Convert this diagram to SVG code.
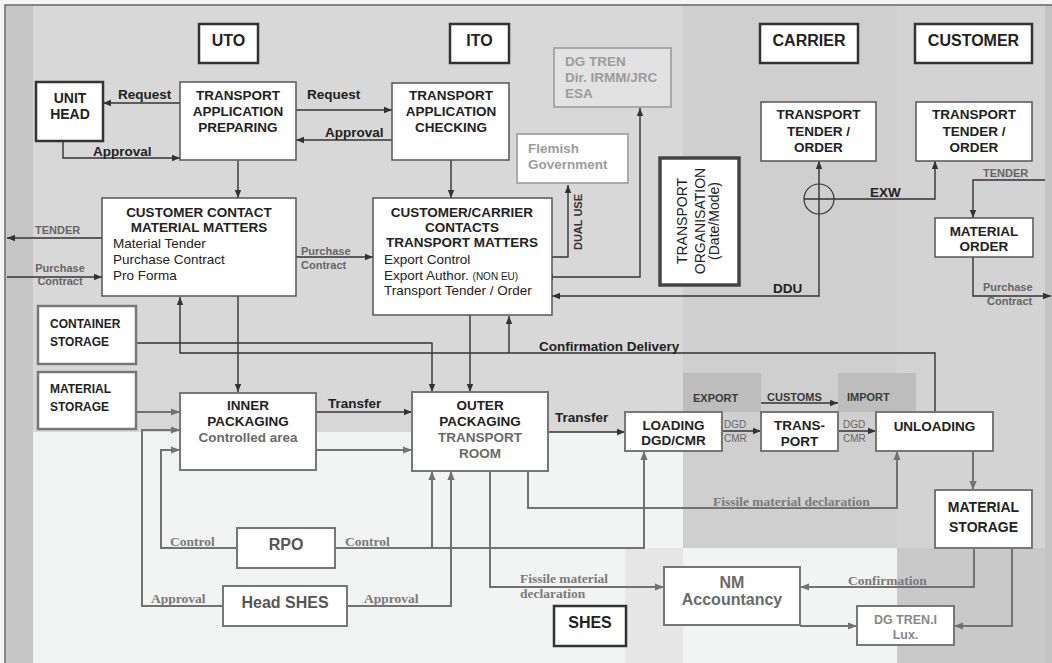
<svg xmlns="http://www.w3.org/2000/svg" width="1052" height="663" viewBox="0 0 1052 663">
<style>
text{font-family:"Liberation Sans",Arial,sans-serif;fill:#222}
.b{font-weight:bold;font-size:13.5px}
.c{text-anchor:middle}
.n{font-size:13.5px}
.t{font-weight:bold;font-size:16px;text-anchor:middle}
.s{font-weight:bold;font-size:11px;fill:#666}
.lb{font-weight:bold;font-size:13.5px}
.sf{font-family:"Liberation Serif","Times New Roman",serif;font-weight:bold;font-size:13.5px;fill:#7a7a7a}
.g{fill:#6a6a6a}
.lg{fill:#9c9c9c}
.box{fill:#fff;stroke:#555;stroke-width:1.5}
.tb{fill:#fff;stroke:#333;stroke-width:2.5}
.gb{fill:#fff;stroke:#777;stroke-width:2.5}
.gb2{fill:#fff;stroke:#777;stroke-width:2}
.lbx{fill:#fff;stroke:#aaa;stroke-width:2}
.d{fill:none;stroke:#333;stroke-width:1.4}
.gr{fill:none;stroke:#727272;stroke-width:2}
</style>
<defs>
<marker id="ad" viewBox="0 0 10 10" refX="10" refY="5" markerWidth="8" markerHeight="8" markerUnits="userSpaceOnUse" orient="auto-start-reverse"><path d="M0,1 L10,5 L0,9 z" fill="#333"/></marker>
<marker id="ag" viewBox="0 0 10 10" refX="10" refY="5" markerWidth="9" markerHeight="9" markerUnits="userSpaceOnUse" orient="auto-start-reverse"><path d="M0,1 L10,5 L0,9 z" fill="#727272"/></marker>
</defs>
<g id="background">
<rect x="0" y="0" width="1052" height="663" fill="#f4f4f4"/>
<rect x="5" y="5" width="1047" height="660" fill="#d8d8d8" stroke="#666" stroke-width="1.5"/>
<rect x="6" y="6" width="27" height="657" fill="#c6c6c6"/>
<rect x="683" y="6" width="214" height="542" fill="#cfcfcf"/>
<rect x="897" y="6" width="148" height="657" fill="#d3d3d3"/>
<rect x="897" y="548" width="148" height="115" fill="#c9c9c9"/>
<rect x="1045" y="6" width="7" height="657" fill="#c4c4c4"/>
<rect x="33" y="432" width="650" height="231" fill="#f2f3f3"/>
<rect x="625" y="548" width="58" height="115" fill="#e6e6e6"/>
<rect x="683" y="548" width="214" height="115" fill="#f2f3f3"/>
<rect x="683" y="373" width="78" height="39" fill="#bdbdbd"/>
<rect x="838" y="373" width="78" height="39" fill="#bdbdbd"/>
</g>
<g id="connectors">
<path class="d" d="M180,103 H103" marker-end="url(#ad)"/>
<path class="d" d="M63,141 V158 H180" marker-end="url(#ad)"/>
<path class="d" d="M296,110 H392" marker-end="url(#ad)"/>
<path class="d" d="M392,140 H296" marker-end="url(#ad)"/>
<path class="d" d="M238,161 V198" marker-end="url(#ad)"/>
<path class="d" d="M451,160 V198" marker-end="url(#ad)"/>
<path class="d" d="M102,238 H7" marker-end="url(#ad)"/>
<path class="d" d="M7,277 H102" marker-end="url(#ad)"/>
<path class="d" d="M296,257 H373" marker-end="url(#ad)"/>
<path class="d" d="M510,257 H568 V185" marker-start="url(#ad)" marker-end="url(#ad)"/>
<path class="d" d="M545,277 H640 V108" marker-start="url(#ad)" marker-end="url(#ad)"/>
<path class="d" d="M552,296 H819 V161" marker-start="url(#ad)" marker-end="url(#ad)"/>
<path class="d" d="M804,199 H935 V161" marker-end="url(#ad)"/>
<circle cx="819" cy="199" r="15" fill="none" stroke="#333" stroke-width="1.2"/>
<path class="d" d="M1045,180 H973 V218" marker-end="url(#ad)"/>
<path class="d" d="M973,257 V296 H1051" marker-end="url(#ad)"/>
<path class="d" d="M136,343 H432 V392" marker-end="url(#ad)"/>
<path class="d" d="M470,315 V392" marker-end="url(#ad)"/>
<path class="d" d="M238,296 V392" marker-end="url(#ad)"/>
<path class="d" d="M935,412 V353 H180 V297" marker-end="url(#ad)"/>
<path class="d" d="M509,353 V316" marker-end="url(#ad)"/>
<path class="d" d="M316,412 H412" marker-end="url(#ad)"/>
<path class="d" d="M548,432 H625" marker-end="url(#ad)"/>
<path class="d" d="M722,431 H761" marker-end="url(#ad)"/>
<path class="d" d="M838,431 H876" marker-end="url(#ad)"/>
<path class="d" d="M761,403 H838" marker-end="url(#ad)"/>
<path class="gr" d="M136,412 H180" marker-end="url(#ag)"/>
<path class="gr" d="M316,450 H412" marker-end="url(#ag)"/>
<path class="gr" d="M237,548 H161 V450 H180" marker-end="url(#ag)"/>
<path class="gr" d="M223,606 H142 V430 H180" marker-end="url(#ag)"/>
<path class="gr" d="M335,548 H644 V451" marker-end="url(#ag)"/>
<path class="gr" d="M432,548 V471" marker-end="url(#ag)"/>
<path class="gr" d="M347,606 H451 V471" marker-end="url(#ag)"/>
<path class="gr" d="M490,471 V587 H664" marker-end="url(#ag)"/>
<path class="gr" d="M528,471 V508 H897 V451" marker-end="url(#ag)"/>
<path class="gr" d="M973,451 V490" marker-end="url(#ag)"/>
<path class="gr" d="M974,548 V587 H800" marker-end="url(#ag)"/>
<path class="gr" d="M800,626 H857" marker-end="url(#ag)"/>
<path class="gr" d="M1012,548 V626 H954" marker-end="url(#ag)"/>
</g>
<g id="labels">
<text class="lb" x="118" y="99">Request</text>
<text class="lb" x="93" y="156">Approval</text>
<text class="lb" x="307" y="99">Request</text>
<text class="lb" x="325" y="137">Approval</text>
<text class="s" x="35" y="234">TENDER</text>
<text class="s c" x="60" y="272">Purchase</text>
<text class="s c" x="60" y="285">Contract</text>
<text class="s" x="301" y="255">Purchase</text>
<text class="s" x="301" y="269">Contract</text>
<text class="s" style="fill:#333" transform="translate(582,222) rotate(-90)" text-anchor="middle">DUAL USE</text>
<text class="lb" x="870" y="197">EXW</text>
<text class="lb" x="773" y="293">DDU</text>
<text class="s" x="983" y="177">TENDER</text>
<text class="s" x="983" y="291">Purchase</text>
<text class="s" x="987" y="305">Contract</text>
<text class="lb" x="539" y="351">Confirmation Delivery</text>
<text class="lb" x="328" y="408">Transfer</text>
<text class="lb" x="555" y="422">Transfer</text>
<text class="s" style="fill:#3a3a3a" x="693" y="402">EXPORT</text>
<text class="s" style="fill:#3a3a3a" x="767" y="401">CUSTOMS</text>
<text class="s" style="fill:#3a3a3a" x="847" y="401">IMPORT</text>
<text style="font-size:10px;fill:#666" x="724" y="428">DGD</text>
<text style="font-size:10px;fill:#666" x="724" y="442">CMR</text>
<text style="font-size:10px;fill:#666" x="843" y="428">DGD</text>
<text style="font-size:10px;fill:#666" x="843" y="442">CMR</text>
<text class="sf" x="713" y="506">Fissile material declaration</text>
<text class="sf" x="520" y="583">Fissile material</text>
<text class="sf" x="520" y="598">declaration</text>
<text class="sf" x="170" y="546">Control</text>
<text class="sf" x="345" y="546">Control</text>
<text class="sf" x="151" y="603">Approval</text>
<text class="sf" x="364" y="603">Approval</text>
<text class="sf" x="848" y="585">Confirmation</text>
</g>
<g id="uto"><rect class="tb" x="199" y="24" width="59" height="39"/><text class="t" x="228.5" y="46">UTO</text></g>
<g id="ito"><rect class="tb" x="450" y="24" width="59" height="39"/><text class="t" x="479.5" y="46">ITO</text></g>
<g id="carrier"><rect class="tb" x="760" y="24" width="98" height="39"/><text class="t" x="809" y="46">CARRIER</text></g>
<g id="customer"><rect class="tb" x="915" y="24" width="117" height="39"/><text class="t" x="973.5" y="46">CUSTOMER</text></g>
<g id="shes"><rect class="tb" x="554" y="606" width="72" height="40"/><text class="t" x="590" y="628">SHES</text></g>
<g id="unit-head"><rect class="tb" x="36" y="82" width="67" height="59"/><text class="b c" style="font-size:14px" x="70" y="103">UNIT</text><text class="b c" style="font-size:14px" x="70" y="119">HEAD</text></g>
<g id="tap"><rect class="box" x="180" y="82" width="116" height="78"/><text class="b c" x="238" y="100">TRANSPORT</text><text class="b c" x="238" y="116">APPLICATION</text><text class="b c" x="238" y="132">PREPARING</text></g>
<g id="tac"><rect class="box" x="392" y="83" width="117" height="77"/><text class="b c" x="451" y="100">TRANSPORT</text><text class="b c" x="451" y="116">APPLICATION</text><text class="b c" x="451" y="132">CHECKING</text></g>
<g id="dg-tren"><rect x="554" y="48" width="117" height="59" fill="#e2e2e2" stroke="#a8a8a8" stroke-width="2"/><text class="b lg" x="565" y="66">DG TREN</text><text class="b lg" x="565" y="82">Dir. IRMM/JRC</text><text class="b lg" x="565" y="98">ESA</text></g>
<g id="flemish"><rect class="lbx" x="517" y="134" width="111" height="49"/><text class="b lg" x="528" y="153">Flemish</text><text class="b lg" x="528" y="169">Government</text></g>
<g id="ccmm"><rect class="box" x="102" y="198" width="194" height="98"/><text class="b c" x="199" y="217">CUSTOMER CONTACT</text><text class="b c" x="199" y="232">MATERIAL MATTERS</text><text class="n" x="113" y="248">Material Tender</text><text class="n" x="113" y="264">Purchase Contract</text><text class="n" x="113" y="280">Pro Forma</text></g>
<g id="cctm"><rect class="box" x="373" y="198" width="179" height="117"/><text class="b c" x="462" y="217">CUSTOMER/CARRIER</text><text class="b c" x="462" y="232">CONTACTS</text><text class="b c" x="462" y="247">TRANSPORT MATTERS</text><text class="n" x="384" y="264">Export Control</text><text class="n" x="384" y="280">Export Author. <tspan style="font-size:10px">(NON EU)</tspan></text><text class="n" x="384" y="295">Transport Tender / Order</text></g>
<g id="transport-organisation"><rect x="660" y="158" width="79" height="127" fill="#fff" stroke="#444" stroke-width="3.5"/><text style="font-size:14px" transform="translate(687,221) rotate(-90)" text-anchor="middle">TRANSPORT</text><text style="font-size:14px" transform="translate(705,221) rotate(-90)" text-anchor="middle">ORGANISATION</text><text style="font-size:14px" transform="translate(719,221) rotate(-90)" text-anchor="middle">(Date/Mode)</text></g>
<g id="carrier-tender"><rect class="box" x="761" y="102" width="115" height="59"/><text class="b c" x="818.5" y="119">TRANSPORT</text><text class="b c" x="818.5" y="136">TENDER /</text><text class="b c" x="818.5" y="152">ORDER</text></g>
<g id="customer-tender"><rect class="box" x="916" y="102" width="116" height="59"/><text class="b c" x="974" y="119">TRANSPORT</text><text class="b c" x="974" y="136">TENDER /</text><text class="b c" x="974" y="152">ORDER</text></g>
<g id="material-order"><rect class="box" x="935" y="218" width="98" height="39"/><text class="b c" x="984" y="236">MATERIAL</text><text class="b c" x="984" y="251">ORDER</text></g>
<g id="container-storage"><rect class="gb" x="38" y="306" width="98" height="58"/><text class="b" style="font-size:12px" x="50" y="328">CONTAINER</text><text class="b" style="font-size:12px" x="50" y="346">STORAGE</text></g>
<g id="material-storage-left"><rect class="gb" x="38" y="372" width="98" height="57"/><text class="b" style="font-size:12px" x="50" y="393">MATERIAL</text><text class="b" style="font-size:12px" x="50" y="411">STORAGE</text></g>
<g id="inner-packaging"><rect class="gb2" x="180" y="393" width="136" height="77"/><text class="b c" x="248" y="410">INNER</text><text class="b c" x="248" y="426">PACKAGING</text><text class="b c g" x="248" y="442">Controlled area</text></g>
<g id="outer-packaging"><rect class="gb2" x="412" y="392" width="136" height="79"/><text class="b c" x="480" y="410">OUTER</text><text class="b c" x="480" y="426">PACKAGING</text><text class="b c g" x="480" y="442">TRANSPORT</text><text class="b c g" x="480" y="458">ROOM</text></g>
<g id="loading"><rect class="gb2" x="625" y="412" width="97" height="39"/><text class="b c" x="673.5" y="430">LOADING</text><text class="b c" x="673.5" y="445">DGD/CMR</text></g>
<g id="transport"><rect class="gb2" x="761" y="412" width="77" height="39"/><text class="b c" x="799.5" y="430">TRANS-</text><text class="b c" x="799.5" y="446">PORT</text></g>
<g id="unloading"><rect class="gb2" x="876" y="412" width="117" height="39"/><text class="b c" x="934.5" y="431">UNLOADING</text></g>
<g id="material-storage-right"><rect class="gb2" x="935" y="490" width="97" height="58"/><text class="b c" style="font-size:14px" x="983.5" y="512">MATERIAL</text><text class="b c" style="font-size:14px" x="983.5" y="532">STORAGE</text></g>
<g id="rpo"><rect class="gb2" x="237" y="528" width="98" height="40"/><text class="b c" style="font-size:16px;fill:#555" x="286" y="550">RPO</text></g>
<g id="head-shes"><rect class="gb2" x="223" y="586" width="124" height="40"/><text class="b c" style="font-size:16px;fill:#555" x="285" y="608">Head SHES</text></g>
<g id="nm-accountancy"><rect class="gb2" x="664" y="567" width="136" height="58"/><text class="b c g" style="font-size:16px" x="732" y="588">NM</text><text class="b c g" style="font-size:16px" x="732" y="605">Accountancy</text></g>
<g id="dg-tren-lux"><rect class="gb2" x="857" y="606" width="97" height="39"/><text class="b c" style="font-size:12.5px;fill:#888" x="905.5" y="624">DG TREN.I</text><text class="b c" style="font-size:12.5px;fill:#888" x="905.5" y="639">Lux.</text></g>
</svg>
